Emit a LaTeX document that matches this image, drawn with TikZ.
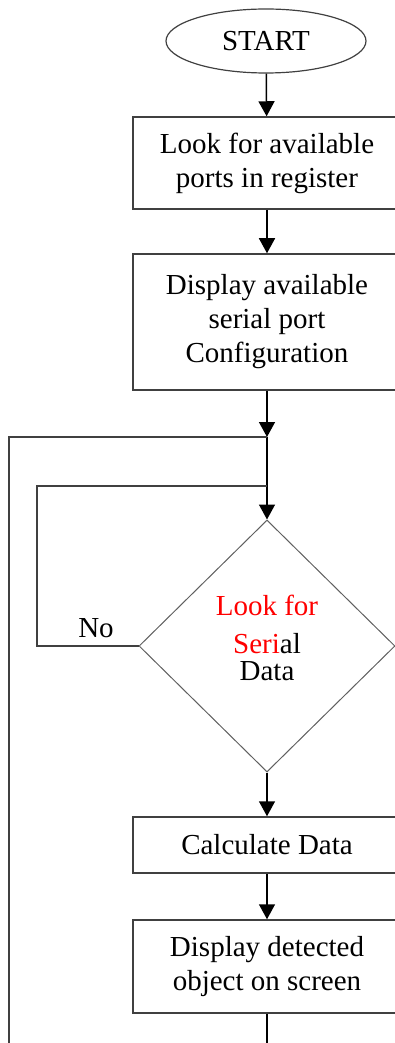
\documentclass[tikz,border=0pt]{standalone}
\usepackage{xcolor}
\usepackage{fontspec}
\setmainfont{Liberation Serif}
\usepackage{tikz}
\usetikzlibrary{arrows.meta,shapes.geometric}

\definecolor{edgegray}{HTML}{404040}
\definecolor{diagray}{HTML}{606060}

\begin{document}
\begin{tikzpicture}[x=0.5pt, y=-0.5pt, >={Triangle[length=7.5pt,width=8pt]},
    every node/.style={font=\fontsize{14.5}{17}\selectfont},
    box/.style={draw=edgegray, line width=0.75pt, minimum width=134pt, align=center, inner sep=0pt},
    term/.style={ellipse, draw=edgegray, line width=0.6pt, minimum width=100pt, minimum height=32pt, inner sep=0pt},
    decide/.style={diamond, draw=diagray, line width=0.5pt, minimum width=128pt, minimum height=126pt, inner sep=0pt, align=center},
    flow/.style={->, line width=0.75pt, black},
    loop/.style={line width=0.7pt, edgegray}]
  \useasboundingbox (0,0) rectangle (395,1043);

  % blocks
  \node[term] (start) at (266,41) {START};
  \node[box, minimum height=46pt] (ports) at (267,163) {Look for available\\ports in register};
  \node[box, minimum height=68pt] (config) at (267,322) {Display available\\serial port\\Configuration};
  \node[decide] (serial) at (267,646) {\raisebox{2.5pt}[\height][\depth]{\begin{tabular}{@{}c@{}}
      \textcolor{red}{Look for}\\[2pt]\textcolor{red}{Seri}al\\[-3.5pt]Data\end{tabular}}};
  \node[box, minimum height=28pt] (calc) at (267,845) {Calculate Data};
  \node[box, minimum height=46.5pt] (screen) at (267,966.5) {Display detected\\object on screen};
  \node (no) at (96,628) {No};

  % junction points of the two loops
  \coordinate (outer) at (267,437);
  \coordinate (inner) at (267,486);
  \coordinate (outertop) at (9,437);
  \coordinate (outerbot) at (9,1043);
  \coordinate (innertop) at (37,486);
  \coordinate (innerbot) at (37,646);
  \coordinate (bottom) at (267,1043);

  % connectors
  \draw[flow] (start) -- (ports);
  \draw[flow] (ports) -- (config);
  \draw[flow] (config) -- (outer);
  \draw[flow] (outer) -- (serial.north);
  \draw[flow] (serial.south) -- (calc);
  \draw[flow] (calc) -- (screen);
  \draw[line width=0.75pt] (screen.south) -- (bottom);
  \draw[loop] (outer) -- (outertop) -- (outerbot);
  \draw[loop] (serial.west) -- (innerbot) -- (innertop) -- (inner);
\end{tikzpicture}
\end{document}
